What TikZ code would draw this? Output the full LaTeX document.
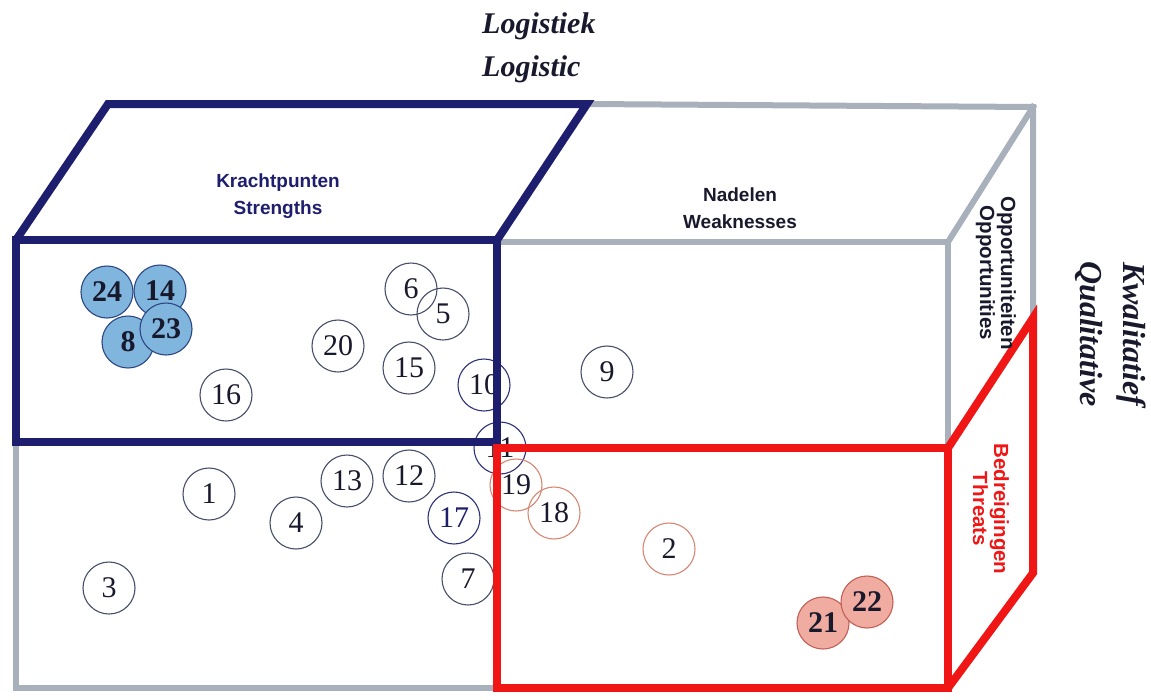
\documentclass[tikz,border=0pt]{standalone}
\usepackage{fontspec}
\setmainfont{Liberation Serif}
\setsansfont{Liberation Sans}
\definecolor{navy}{RGB}{30,30,110}
\definecolor{redc}{RGB}{240,22,22}
\definecolor{grayc}{RGB}{168,176,188}
\definecolor{ink}{RGB}{25,25,45}
\definecolor{circline}{RGB}{70,78,105}
\definecolor{navyline}{RGB}{45,50,120}
\definecolor{pinkline}{RGB}{215,135,115}
\definecolor{bluefill}{RGB}{128,182,222}
\definecolor{bluedraw}{RGB}{45,70,130}
\definecolor{redfill}{RGB}{240,172,160}
\definecolor{reddraw}{RGB}{195,95,85}
\tikzset{
  pt/.style={circle, minimum size=52pt, inner sep=0pt, draw=circline, line width=1.1pt, text=ink, font=\fontsize{30}{30}\selectfont},
  npt/.style={pt, draw=navyline},
  ppt/.style={pt, draw=pinkline},
  bpt/.style={pt, fill=bluefill, draw=bluedraw, font=\fontsize{30}{30}\selectfont\bfseries},
  rpt/.style={pt, fill=redfill, draw=reddraw, font=\fontsize{30}{30}\selectfont\bfseries},
  grayedge/.style={draw=grayc, line width=6pt, line join=miter, line cap=rect},
  blueedge/.style={draw=navy, line width=8pt, line join=miter},
  rededge/.style={draw=redc, line width=8pt, line join=miter},
  lbl/.style={font=\sffamily\bfseries\fontsize{19}{27}\selectfont, align=center, inner sep=0pt},
  vlbl/.style={lbl, rotate=-90, font=\sffamily\bfseries\fontsize{20.5}{21}\selectfont},
  title/.style={font=\bfseries\itshape\fontsize{30}{43}\selectfont, text=ink, inner sep=0pt}
}
\begin{document}
\begin{tikzpicture}[x=1pt,y=-1pt]
\useasboundingbox (0,0) rectangle (1151,699);
\fill[white] (0,0) rectangle (1151,699);

% circles
\node[bpt] (c24) at (107,292) {24};
\node[bpt] (c14) at (160,291) {14};
\node[bpt] (c8)  at (128,342) {8};
\node[bpt] (c23) at (166,329) {23};
\node[pt] (c6)  at (411,289) {6};
\node[pt] (c5)  at (443,314) {5};
\node[pt] (c20) at (338,346) {20};
\node[pt] (c15) at (409,368) {15};
\node[npt] (c10) at (484,385) {10};
\node[pt] (c16) at (226,395) {16};
\node[pt] (c9)  at (607,372) {9};
\node[npt] (c11) at (500,448) {11};
\node[ppt] (c19) at (516,485) {19};
\node[ppt] (c18) at (554,513) {18};
\node[pt] (c1)  at (209,494) {1};
\node[pt] (c13) at (347,481) {13};
\node[pt] (c12) at (409,476) {12};
\node[pt] (c4)  at (296,523) {4};
\node[npt, text=navy] (c17) at (454,518) {17};
\node[pt] (c7)  at (468,579) {7};
\node[pt] (c3)  at (109,588) {3};
\node[ppt] (c2)  at (669,549) {2};
\node[rpt] (c21) at (823,623) {21};
\node[rpt] (c22) at (867,602) {22};

% box corners
\coordinate (fl) at (16,240);
\coordinate (fm) at (497,240);
\coordinate (bl) at (108,104);
\coordinate (bm) at (587,104);
\coordinate (br) at (1033,107);
\coordinate (fr) at (948,242);

% gray edges
\draw[grayedge] (bm) -- (br) -- (1033,318);
\draw[grayedge] (br) -- (fr);
\draw[grayedge] (497,242) -- (fr) -- (948,448);
\draw[grayedge] (16,444) -- (16,688) -- (497,688);

% blue (strengths)
\draw[blueedge] (fl) -- (bl) -- (bm) -- (fm);
\draw[blueedge] (fl) -- (fm) -- (497,442) -- (16,442) -- cycle;

% red (threats)
\draw[rededge] (497,448) -- (948,448) -- (948,688) -- (497,688) -- cycle;
\draw[rededge] (948,448) -- (1033,318) -- (1033,573) -- (948,688);

% labels
\node[lbl, text=navy] (ls) at (278,196) {Krachtpunten\\Strengths};
\node[lbl, text=ink] (lw) at (740,208) {Nadelen\\Weaknesses};
\node[vlbl, text=ink, align=center] (lo) at (996,273) {Opportuniteiten\\Opportunities};
\node[vlbl, text=redc, align=center] (lt) at (991,509) {Bedreigingen\\Threats};

\node[title, anchor=base west] (t1) at (482,33) {Logistiek};
\node[title, anchor=base west] (t2) at (482,76) {Logistic};
\node[title, rotate=-90, align=center, font=\bfseries\itshape\fontsize{32}{43}\selectfont] (tq) at (1111,334) {Kwalitatief\\Qualitative};
\end{tikzpicture}
\end{document}
